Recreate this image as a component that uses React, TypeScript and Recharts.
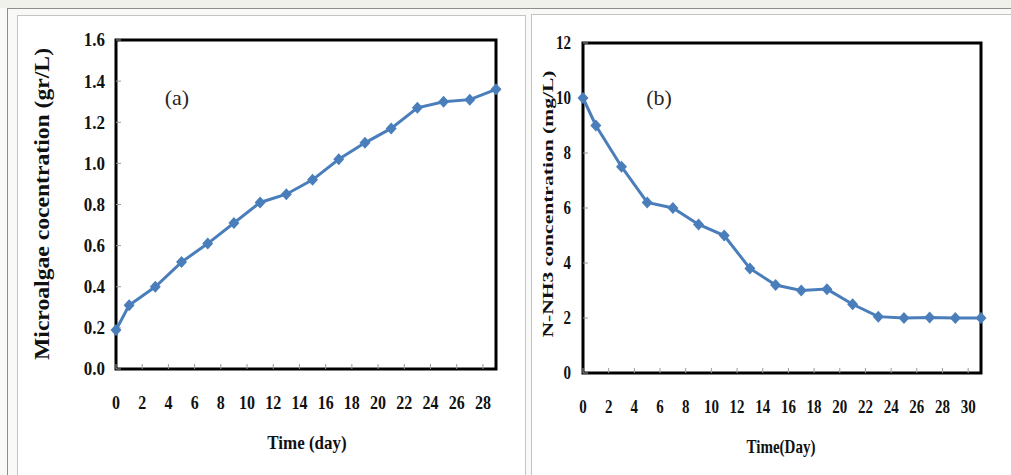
import React from "react";
import { LineChart, Line, XAxis, YAxis, ReferenceArea } from "recharts";

// (a) microalgae growth
const algaeDays = [0, 1, 3, 5, 7, 9, 11, 13, 15, 17, 19, 21, 23, 25, 27, 29];
const algaeValues = [0.19, 0.31, 0.4, 0.52, 0.61, 0.71, 0.81, 0.85, 0.92, 1.02, 1.1, 1.17, 1.27, 1.3, 1.31, 1.36];
const algaeXTicks = [0, 2, 4, 6, 8, 10, 12, 14, 16, 18, 20, 22, 24, 26, 28];
const algaeYTicks = [0, 0.2, 0.4, 0.6, 0.8, 1.0, 1.2, 1.4, 1.6];

// (b) ammonia removal
const nh3Days = [0, 1, 3, 5, 7, 9, 11, 13, 15, 17, 19, 21, 23, 25, 27, 29, 31];
const nh3Values = [10, 9.0, 7.5, 6.2, 6.0, 5.4, 5.0, 3.8, 3.2, 3.0, 3.05, 2.5, 2.05, 2.0, 2.02, 2.0, 2.0];
const nh3XTicks = [0, 2, 4, 6, 8, 10, 12, 14, 16, 18, 20, 22, 24, 26, 28, 30];
const nh3YTicks = [0, 2, 4, 6, 8, 10, 12];

const BLUE = "#4a7ebb";
const SERIF = "'Liberation Serif', 'Times New Roman', serif";

const algaeData = algaeDays.map((d, i) => ({ day: d, value: algaeValues[i] }));
const nh3Data = nh3Days.map((d, i) => ({ day: d, value: nh3Values[i] }));

const Diamond = (props: any) => {
  const { cx, cy, index } = props;
  if (cx == null || cy == null) return <g key={`d-${index}`} />;
  return (
    <polygon
      key={`d-${index}`}
      points={`${cx},${cy - 6} ${cx + 5.5},${cy} ${cx},${cy + 6} ${cx - 5.5},${cy}`}
      fill={BLUE}
    />
  );
};

// tick text, stretched a little vertically like the scanned figure
const makeTick =
  (axis: "x" | "y", size: number, stretch: number, fmt: (v: number) => string) =>
  (props: any) => {
    const { x, y, payload } = props;
    const common = {
      fontFamily: SERIF,
      fontWeight: "bold" as const,
      fontSize: size,
      fill: "#111",
    };
    if (axis === "x") {
      return (
        <g transform={`translate(${x},${y}) scale(1,${stretch})`}>
          <text x={0} y={0} dy="0.71em" textAnchor="middle" {...common}>
            {fmt(payload.value)}
          </text>
        </g>
      );
    }
    return (
      <g transform={`translate(${x},${y}) scale(1,${stretch})`}>
        <text x={0} y={0} textAnchor="end" dominantBaseline="central" {...common}>
          {fmt(payload.value)}
        </text>
      </g>
    );
  };

type PanelProps = {
  left: number;
  width: number;
  margin: { top: number; right: number; bottom: number; left: number };
  yWidth: number;
  data: { day: number; value: number }[];
  xMax: number;
  xTicks: number[];
  yMax: number;
  yTicks: number[];
  xTick: (p: any) => React.ReactElement;
  yTick: (p: any) => React.ReactElement;
  xMargin: number;
  yMargin: number;
};

const Panel = (p: PanelProps) => (
  <div style={{ position: "absolute", left: p.left, top: 0 }}>
    <LineChart width={p.width} height={475} data={p.data} margin={p.margin}>
      <XAxis
        dataKey="day"
        type="number"
        domain={[0, p.xMax]}
        ticks={p.xTicks}
        interval={0}
        height={40}
        axisLine={false}
        tickLine={{ stroke: "#9a9a9a" }}
        tickSize={-5}
        tickMargin={p.xMargin}
        tick={p.xTick}
      />
      <YAxis
        type="number"
        domain={[0, p.yMax]}
        ticks={p.yTicks}
        interval={0}
        width={p.yWidth}
        axisLine={false}
        tickLine={{ stroke: "#9a9a9a" }}
        tickSize={-5}
        tickMargin={p.yMargin}
        tick={p.yTick}
      />
      <ReferenceArea
        x1={0}
        x2={p.xMax}
        y1={0}
        y2={p.yMax}
        fill="none"
        fillOpacity={0}
        stroke="#000"
        strokeWidth={3}
      />
      <Line
        type="linear"
        dataKey="value"
        stroke={BLUE}
        strokeWidth={3}
        dot={Diamond}
        activeDot={false}
        isAnimationActive={false}
      />
    </LineChart>
  </div>
);

export default function App() {
  return (
    <div
      style={{
        position: "absolute",
        left: 0,
        top: 0,
        width: 1011,
        height: 475,
        overflow: "hidden",
        background: "#f9f9f7",
      }}
    >
      <div style={{ position: "absolute", left: 0, top: 0, width: 1011, height: 8, background: "#f1f1ec" }} />
      <div
        style={{
          position: "absolute",
          left: 7,
          top: 8,
          width: 1011,
          height: 480,
          borderTop: "1px solid #8e8e8e",
          borderLeft: "1px solid #8e8e8e",
        }}
      />
      <div
        style={{
          position: "absolute",
          left: 17,
          top: 15,
          width: 507,
          height: 480,
          background: "#fff",
          border: "1px solid #c4c4c4",
        }}
      />
      <div
        style={{
          position: "absolute",
          left: 531,
          top: 14,
          width: 500,
          height: 480,
          background: "#fff",
          border: "1px solid #c4c4c4",
        }}
      />

      <Panel
        left={0}
        width={525}
        margin={{ top: 40, right: 29, bottom: 66, left: 0 }}
        yWidth={116}
        data={algaeData}
        xMax={29}
        xTicks={algaeXTicks}
        yMax={1.6}
        yTicks={algaeYTicks}
        xTick={makeTick("x", 16, 1.12, (v) => String(v))}
        yTick={makeTick("y", 17, 1.15, (v) => v.toFixed(1))}
        xMargin={32}
        yMargin={16}
      />
      <Panel
        left={520}
        width={491}
        margin={{ top: 43, right: 30, bottom: 62, left: 0 }}
        yWidth={63}
        data={nh3Data}
        xMax={31}
        xTicks={nh3XTicks}
        yMax={12}
        yTicks={nh3YTicks}
        xTick={makeTick("x", 15, 1.3, (v) => String(v))}
        yTick={makeTick("y", 15, 1.25, (v) => String(v))}
        xMargin={31}
        yMargin={17}
      />

      <svg
        width={1011}
        height={475}
        style={{ position: "absolute", left: 0, top: 0, pointerEvents: "none" }}
      >
        <g fontFamily={SERIF} fill="#111">
          <text
            x={0}
            y={0}
            transform="translate(42,204) rotate(-90)"
            textAnchor="middle"
            dominantBaseline="central"
            fontSize={20}
            fontWeight="bold"
            textLength={312}
            lengthAdjust="spacingAndGlyphs"
          >
            Microalgae cocentration (gr/L)
          </text>
          <text
            x={0}
            y={0}
            transform="translate(307,443) scale(1,1.15)"
            textAnchor="middle"
            dominantBaseline="central"
            fontSize={17}
            fontWeight="bold"
          >
            Time (day)
          </text>
          <text
            x={0}
            y={0}
            transform="translate(548,204) rotate(-90)"
            textAnchor="middle"
            dominantBaseline="central"
            fontSize={15}
            fontWeight="bold"
            textLength={267}
            lengthAdjust="spacingAndGlyphs"
          >
            N-NH3 concentration (mg/L)
          </text>
          <text
            x={0}
            y={0}
            transform="translate(781,447) scale(1,1.15)"
            textAnchor="middle"
            dominantBaseline="central"
            fontSize={17}
            fontWeight="bold"
            textLength={69}
            lengthAdjust="spacingAndGlyphs"
          >
            Time(Day)
          </text>
          <text x={177} y={97} textAnchor="middle" dominantBaseline="central" fontSize={22} fill="#2a2520">
            (a)
          </text>
          <text x={659} y={97} textAnchor="middle" dominantBaseline="central" fontSize={22} fill="#2a2520">
            (b)
          </text>
        </g>
      </svg>
    </div>
  );
}
